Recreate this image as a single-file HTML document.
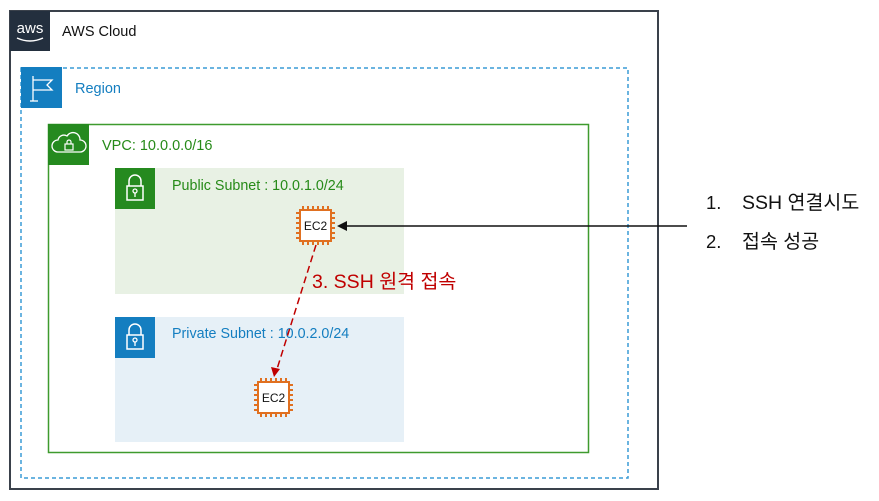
<!DOCTYPE html>
<html><head><meta charset="utf-8"><style>
html,body{margin:0;padding:0;background:#fff;width:879px;height:501px;overflow:hidden}
text{font-family:"Liberation Sans","Noto Sans CJK KR",sans-serif}
</style></head><body>
<svg width="879" height="501" viewBox="0 0 879 501" xmlns="http://www.w3.org/2000/svg">
<defs>
<g id="chip">
 <rect x="4" y="4" width="31" height="31" fill="#fff" stroke="#e07020" stroke-width="2"/>
 <g fill="#e07020">
  <rect x="6" y="0" width="2" height="4"/><rect x="11" y="0" width="2" height="4"/><rect x="16" y="0" width="2" height="4"/><rect x="21" y="0" width="2" height="4"/><rect x="26" y="0" width="2" height="4"/><rect x="31" y="0" width="2" height="4"/>
  <rect x="6" y="35" width="2" height="4"/><rect x="11" y="35" width="2" height="4"/><rect x="16" y="35" width="2" height="4"/><rect x="21" y="35" width="2" height="4"/><rect x="26" y="35" width="2" height="4"/><rect x="31" y="35" width="2" height="4"/>
  <rect y="6" x="0" height="2" width="4"/><rect y="11" x="0" height="2" width="4"/><rect y="16" x="0" height="2" width="4"/><rect y="21" x="0" height="2" width="4"/><rect y="26" x="0" height="2" width="4"/><rect y="31" x="0" height="2" width="4"/>
  <rect y="6" x="35" height="2" width="4"/><rect y="11" x="35" height="2" width="4"/><rect y="16" x="35" height="2" width="4"/><rect y="21" x="35" height="2" width="4"/><rect y="26" x="35" height="2" width="4"/><rect y="31" x="35" height="2" width="4"/>
 </g>
 <text x="19.5" y="24" font-size="12" text-anchor="middle" fill="#111">EC2</text>
</g>
<g id="lock">
 <path d="M-6 0 v-5 a6 6 0 0 1 12 0 v5" fill="none" stroke="#fff" stroke-width="1.5"/>
 <rect x="-8" y="0" width="16" height="14" fill="none" stroke="#fff" stroke-width="1.5"/>
 <circle cx="0" cy="5" r="2" fill="none" stroke="#fff" stroke-width="1.3"/>
 <line x1="0" y1="7" x2="0" y2="11" stroke="#fff" stroke-width="1.3"/>
</g>
</defs>
<rect x="10" y="11" width="648" height="478" fill="#fff" stroke="#3a414b" stroke-width="2"/>
<rect x="10" y="11" width="40" height="40" fill="#232f3e"/>
<text x="30" y="33" font-size="15" fill="#fff" text-anchor="middle">aws</text>
<path d="M17 38 q13 6 26 0" fill="none" stroke="#fff" stroke-width="1.5"/>
<text x="62" y="36" font-size="14.5" fill="#111">AWS Cloud</text>
<rect x="21" y="68" width="607" height="410" fill="none" stroke="#3a9bd5" stroke-width="1.5" stroke-dasharray="4,3"/>
<rect x="21" y="67" width="41" height="41" fill="#147ec0"/>
<line x1="33" y1="76" x2="33" y2="101" stroke="#fff" stroke-width="1.3"/>
<line x1="30" y1="101" x2="38" y2="101" stroke="#fff" stroke-width="1.3"/>
<path d="M33 80 h19 l-5 5 l5 5 h-19" fill="none" stroke="#fff" stroke-width="1.3"/>
<text x="75" y="93" font-size="14.5" fill="#147ec0">Region</text>
<rect x="48.5" y="124.5" width="540" height="328" fill="none" stroke="#3f9b2e" stroke-width="1.5"/>
<rect x="48" y="124" width="41" height="41" fill="#258a1f"/>
<path d="M58 152 h22 a6 6 0 0 0 0 -12 a7 7 0 0 0 -13 -4 a6 6 0 0 0 -9 4 a6 6 0 0 0 0 12z" fill="none" stroke="#fff" stroke-width="1.3"/>
<rect x="65" y="144" width="8" height="6" fill="none" stroke="#fff" stroke-width="1.2"/>
<path d="M67 144 v-2 a2 2 0 0 1 4 0 v2" fill="none" stroke="#fff" stroke-width="1.2"/>
<text x="102" y="150" font-size="14.5" fill="#268a18">VPC: 10.0.0.0/16</text>
<rect x="115" y="168" width="289" height="126" fill="#e8f1e4"/>
<rect x="115" y="168" width="40" height="41" fill="#258a1f"/>
<use href="#lock" x="135" y="186"/>
<text x="172" y="190" font-size="14.3" fill="#268a18">Public Subnet : 10.0.1.0/24</text>
<rect x="115" y="317" width="289" height="125" fill="#e6f0f7"/>
<rect x="115" y="317" width="40" height="41" fill="#147ec0"/>
<use href="#lock" x="135" y="335"/>
<text x="172" y="338" font-size="14.3" fill="#147ec0">Private Subnet : 10.0.2.0/24</text>
<use href="#chip" x="296" y="206"/>
<use href="#chip" x="254" y="378"/>
<line x1="687" y1="226" x2="345" y2="226" stroke="#111" stroke-width="1.5"/>
<polygon points="337,226 347,221 347,231" fill="#111"/>
<line x1="316" y1="245" x2="277" y2="369" stroke="#c00000" stroke-width="1.5" stroke-dasharray="7,4"/>
<polygon points="274,377 271,367 280,369" fill="#c00000"/>
<text x="312" y="288" font-size="19.5" fill="#c00000">3. SSH 원격 접속</text>
<text x="706" y="209" font-size="18.5" fill="#111">1.</text>
<text x="742" y="209" font-size="19.5" fill="#111">SSH 연결시도</text>
<text x="706" y="248" font-size="18.5" fill="#111">2.</text>
<text x="742" y="248" font-size="19.5" fill="#111">접속 성공</text>
</svg>
</body></html>
